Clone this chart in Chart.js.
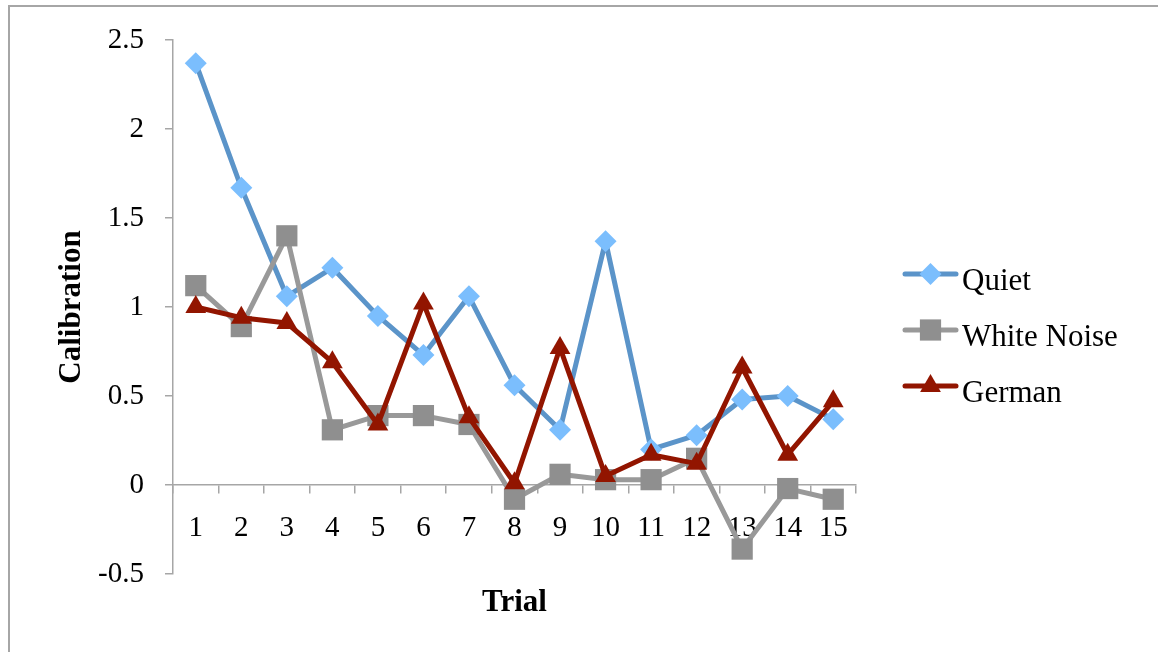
<!DOCTYPE html>
<html>
<head>
<meta charset="utf-8">
<script src="https://cdn.jsdelivr.net/npm/chart.js@4.4.1/dist/chart.umd.min.js"></script>
<style>
  html, body { margin: 0; padding: 0; background: #ffffff; overflow: hidden; }
  #frame { position: absolute; left: 8px; top: 5px; width: 1200px; height: 700px; border: 2px solid #a6a6a6; }
  #chart { position: absolute; left: 0; top: 0; }
</style>
</head>
<body>
<div id="frame"></div>
<canvas id="chart" width="1158" height="652"></canvas>
<script>
// Calibration per trial for the three listening conditions
const trials = ['1', '2', '3', '4', '5', '6', '7', '8', '9', '10', '11', '12', '13', '14', '15'];
const quiet = [2.37, 1.67, 1.06, 1.22, 0.95, 0.73, 1.06, 0.56, 0.31, 1.37, 0.20, 0.28, 0.48, 0.50, 0.37];
const whiteNoise = [1.12, 0.89, 1.40, 0.31, 0.39, 0.39, 0.34, -0.08, 0.06, 0.03, 0.03, 0.15, -0.36, -0.02, -0.08];
const german = [1.00, 0.94, 0.91, 0.69, 0.34, 1.02, 0.38, 0.01, 0.77, 0.05, 0.17, 0.12, 0.66, 0.17, 0.47];
const seriesNames = ['Quiet', 'White Noise', 'German'];
const yMin = -0.5, yMax = 2.5, yStep = 0.5;

const serif = '"Liberation Serif", "Times New Roman", serif';
const axisGray = '#a6a6a6';

// Marker shapes for the legend, matching the dataset point styles
function drawMarker(ctx, style, r, x, y, fill) {
  ctx.save();
  ctx.fillStyle = fill;
  ctx.beginPath();
  if (style === 'rectRot') {
    ctx.moveTo(x - r, y); ctx.lineTo(x, y - r); ctx.lineTo(x + r, y); ctx.lineTo(x, y + r);
  } else if (style === 'rect') {
    const s = Math.SQRT1_2 * r;
    ctx.rect(x - s, y - s, 2 * s, 2 * s);
  } else {
    const a = 2 * Math.PI / 3;
    ctx.moveTo(x, y - r);
    ctx.lineTo(x + Math.sin(a) * r, y - Math.cos(a) * r);
    ctx.lineTo(x + Math.sin(2 * a) * r, y - Math.cos(2 * a) * r);
  }
  ctx.closePath();
  ctx.fill();
  ctx.restore();
}

const sideLegend = {
  id: 'sideLegend',
  afterDraw(chart) {
    const ctx = chart.ctx;
    const rows = [274, 330, 386];
    chart.data.datasets.forEach((ds, i) => {
      const y = rows[i];
      ctx.save();
      ctx.strokeStyle = ds.borderColor;
      ctx.lineWidth = ds.borderWidth;
      ctx.lineCap = 'round';
      ctx.beginPath();
      ctx.moveTo(905, y);
      ctx.lineTo(956, y);
      ctx.stroke();
      ctx.restore();
      drawMarker(ctx, ds.pointStyle, ds.pointRadius, 930.5, y, ds.pointBackgroundColor);
      ctx.save();
      ctx.fillStyle = '#000000';
      ctx.font = '31px ' + serif;
      ctx.textBaseline = 'alphabetic';
      ctx.textAlign = 'left';
      ctx.fillText(ds.label, 962, y + 16);
      ctx.restore();
    });
  }
};

new Chart(document.getElementById('chart'), {
  type: 'line',
  data: {
    labels: trials,
    datasets: [
      {
        label: seriesNames[0], data: quiet, order: 2,
        borderColor: '#5b94c9', borderWidth: 5,
        pointStyle: 'rectRot', pointRadius: 11,
        pointBackgroundColor: '#7bbefd', pointBorderColor: '#7bbefd', pointBorderWidth: 0
      },
      {
        label: seriesNames[1], data: whiteNoise, order: 1,
        borderColor: '#999999', borderWidth: 5,
        pointStyle: 'rect', pointRadius: 15,
        pointBackgroundColor: '#8f8f8f', pointBorderColor: '#8f8f8f', pointBorderWidth: 0
      },
      {
        label: seriesNames[2], data: german, order: 0,
        borderColor: '#921500', borderWidth: 5,
        pointStyle: 'triangle', pointRadius: 12,
        pointBackgroundColor: '#921500', pointBorderColor: '#921500', pointBorderWidth: 0
      }
    ]
  },
  options: {
    responsive: false,
    animation: false,
    layout: { padding: { left: 0, top: 40, right: 302, bottom: 78 } },
    plugins: { legend: { display: false }, tooltip: { enabled: false } },
    elements: { line: { tension: 0, borderJoinStyle: 'round', borderCapStyle: 'round' } },
    scales: {
      x: {
        type: 'category',
        position: { y: 0 },
        offset: true,
        grid: { display: true, offset: true, drawOnChartArea: false, drawTicks: true, tickLength: 8, color: axisGray, lineWidth: 1.5 },
        border: { display: true, color: axisGray, width: 1.5 },
        ticks: { color: '#000000', font: { family: serif, size: 29 }, padding: 18, maxRotation: 0, autoSkip: false },
        title: { display: true, text: 'Trial', color: '#000000', font: { family: serif, size: 31, weight: 'bold' }, padding: 0 },
        afterFit(scale) { scale.height = 137; }
      },
      y: {
        min: yMin, max: yMax,
        grid: { display: true, drawOnChartArea: false, drawTicks: true, tickLength: 8, color: axisGray, lineWidth: 1.5 },
        border: { display: true, color: axisGray, width: 1.5 },
        ticks: {
          stepSize: yStep, color: '#000000', font: { family: serif, size: 29 }, padding: 21,
          callback: (v) => String(Number(v.toFixed(2)))
        },
        title: { display: true, text: 'Calibration', color: '#000000', font: { family: serif, size: 31, weight: 'bold' }, padding: { top: 53, bottom: 0 } },
        afterFit(scale) { scale.width = 173; }
      }
    }
  },
  plugins: [sideLegend]
});
</script>
</body>
</html>
